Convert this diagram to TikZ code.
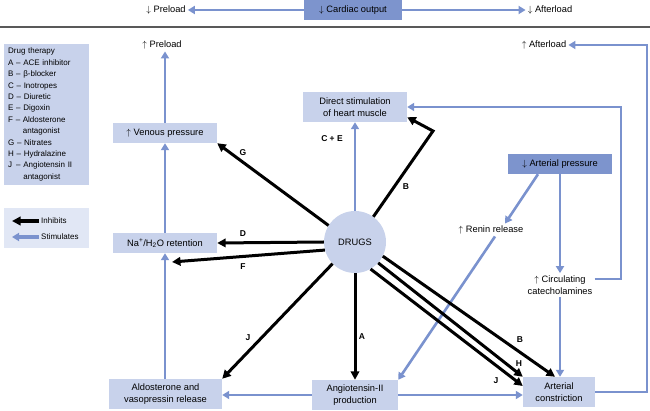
\documentclass[tikz,border=0pt]{standalone}
\usepackage{fontspec}
\setmainfont{Liberation Sans}
\usepackage{tikz}
\usetikzlibrary{arrows.meta,calc}

\definecolor{boxblue}{RGB}{200,210,235}
\definecolor{darkblue}{RGB}{125,148,205}
\definecolor{lineblue}{RGB}{122,146,206}
\definecolor{keyblue}{RGB}{225,231,245}

\begin{document}
\begin{tikzpicture}[x=1pt, y=-1pt,
    box/.style={rectangle, fill=boxblue, align=center, font=\fontsize{9.3}{12.5}\selectfont, inner sep=1pt, minimum height=20pt},
    darkbox/.style={box, fill=darkblue},
    plain/.style={align=center, font=\fontsize{9.3}{12.5}\selectfont, inner sep=2pt},
    stim/.style={-{Triangle[length=7pt,width=8pt]}, line width=2.6pt, draw=lineblue},
    inhib/.style={-{Triangle[length=8.5pt,width=8.5pt]}, line width=3pt, draw=black},
    lbl/.style={font=\fontsize{8.5}{9}\selectfont\bfseries, inner sep=1pt}
]
\useasboundingbox (0,0) rectangle (650,411);

% Top row
\node[darkbox, minimum width=98pt] (cardiac) at (353,10) {$\downarrow$ Cardiac output};
\node[plain] (preloadDown) at (166,10) {$\downarrow$ Preload};
\node[plain] (afterloadDown) at (550,10) {$\downarrow$ Afterload};
\draw[line width=1.2pt, draw=black!65] (0,27) -- (650,27);

% Legend
\node[rectangle, fill=boxblue, anchor=north west, text width=77pt, align=left, inner sep=4pt,
      minimum height=140pt, font=\fontsize{8}{11.4}\selectfont] (therapy) at (4,44)
  {Drug therapy\\
   A -- ACE inhibitor\\
   B -- β-blocker\\
   C -- Inotropes\\
   D -- Diuretic\\
   E -- Digoxin\\
   F -- Aldosterone\\
   \phantom{F -- }antagonist\\
   G -- Nitrates\\
   H -- Hydralazine\\
   J \,-- Angiotensin II\\
   \phantom{J \,-- }antagonist};
\node[rectangle, fill=keyblue, anchor=north west, minimum width=85pt, minimum height=40pt] (key) at (4,208) {};
\node[anchor=west, inner sep=2pt, font=\fontsize{8}{9}\selectfont] (inhibits) at (39,221) {Inhibits};
\node[anchor=west, inner sep=2pt, font=\fontsize{8}{9}\selectfont] (stimulates) at (39,237) {Stimulates};
\coordinate (inhibTip) at (12,221);
\coordinate (stimTip) at (12,237);

% Nodes
\node[plain] (preloadUp) at (162,45) {$\uparrow$ Preload};
\node[plain] (afterloadUp) at (544,45) {$\uparrow$ Afterload};
\node[box, minimum width=104pt, minimum height=30pt] (direct) at (355,107) {Direct stimulation\\of heart muscle};
\node[box, minimum width=104pt] (venous) at (165,133) {$\uparrow$ Venous pressure};
\node[darkbox, minimum width=104pt] (artPress) at (560,164) {$\downarrow$ Arterial pressure};
\node[circle, fill=boxblue, minimum size=62pt, inner sep=0pt, font=\fontsize{9.3}{11}\selectfont] (drugs) at (355,242) {DRUGS};
\node[plain] (renin) at (491,230) {$\uparrow$ Renin release};
\node[box, minimum width=104pt] (sodium) at (165,243) {Na\textsuperscript{+}/H\textsubscript{2}O retention};
\node[plain] (catechol) at (560,285) {$\uparrow$ Circulating\\catecholamines};
\node[box, minimum width=113pt, minimum height=30pt] (aldo) at (165.5,394) {Aldosterone and\\vasopressin release};
\node[box, minimum width=86pt, minimum height=30pt] (angio) at (355,395) {Angiotensin-II\\production};
\node[box, minimum width=72pt, minimum height=30pt] (artCon) at (559,392) {Arterial\\constriction};

\coordinate (outerTop) at (647,45);
\coordinate (catRight) at (621,107);
\coordinate (bTurn) at (433,131);
\coordinate (fEnd) at (172,262);

% Stimulating arrows
\draw[stim] (cardiac.west) -- (preloadDown.east);
\draw[stim] (cardiac.east) -- (afterloadDown.west);
\draw[stim] (venous.north) -- (venous.north |- preloadUp.south);
\draw[stim] (sodium.north) -- (venous.south);
\draw[stim] (sodium.south |- aldo.north) -- (sodium.south);
\draw[stim] (angio.west) -- (angio.west -| aldo.east);
\draw[stim] (angio.east) -- (angio.east -| artCon.west);
\draw[stim] (artCon.east) -| (outerTop) -- (afterloadUp.east);
\draw[stim] ([xshift=-22pt]artPress.south) -- ([xshift=14pt]renin.north);
\draw[stim] ([xshift=4pt]renin.south) -- (angio.north east);
\draw[stim] (artPress.south) -- (catechol.north);
\draw[stim] (catechol.south) -- (catechol.south |- artCon.north);
\draw[stim] ([yshift=6pt]catechol.east) -| (catRight) -- (direct.east);
\draw[stim] (drugs.north) -- (direct.south);

% Inhibiting arrows
\draw[inhib] (drugs.148) -- (venous.south east);
\draw[inhib] (drugs.west) -- (sodium.east);
\draw[inhib] (drugs.195) -- (fEnd);
\draw[inhib] (drugs.224) -- (aldo.north east);
\draw[inhib] (drugs.south) -- (angio.north);
\draw[inhib] (drugs.54) -- (bTurn) -- ([yshift=5pt]direct.south east);
\draw[inhib] (drugs.333) -- ([xshift=-4pt]artCon.north);
\draw[inhib] (drugs.318) -- (artCon.north west);
\draw[inhib] (drugs.300) -- ([yshift=6pt]artCon.west);

% Key arrows
\draw[inhib, line width=3.4pt] (inhibits.west) -- (inhibTip);
\draw[stim, line width=3.4pt] (stimulates.west) -- (stimTip);

% Drug labels
\node[lbl] (lblCE) at (332,139) {C + E};
\node[lbl] (lblG) at (243,153) {G};
\node[lbl] (lblD) at (243,234) {D};
\node[lbl] (lblF) at (243,267) {F};
\node[lbl] (lblJa) at (248,338) {J};
\node[lbl] (lblA) at (362,337) {A};
\node[lbl] (lblBa) at (406,187) {B};
\node[lbl] (lblBb) at (520,340) {B};
\node[lbl] (lblH) at (519,364) {H};
\node[lbl] (lblJb) at (496,381) {J};

\end{tikzpicture}
\end{document}
